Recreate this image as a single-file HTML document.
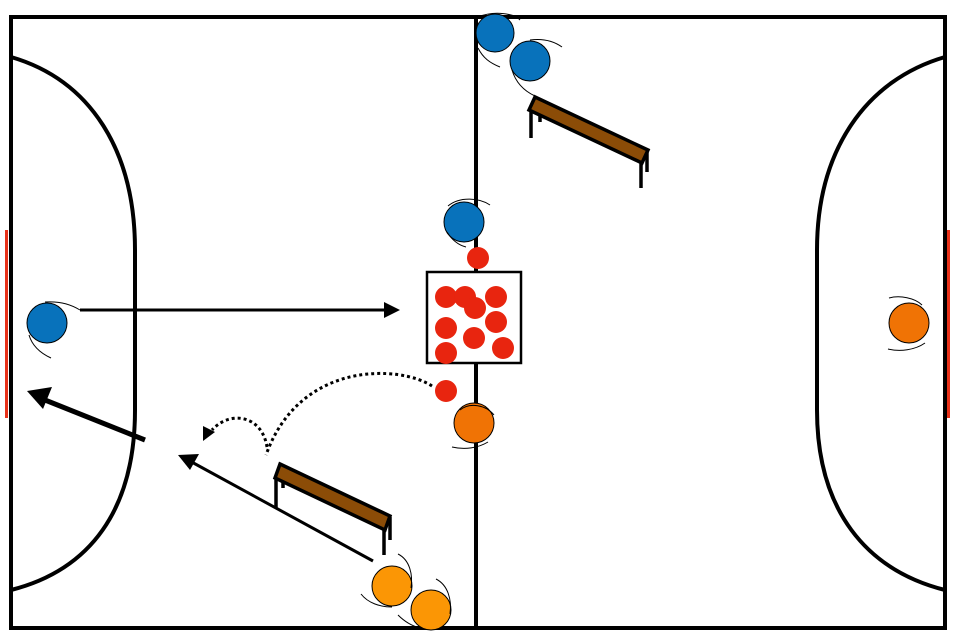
<!DOCTYPE html>
<html><head><style>html,body{margin:0;padding:0;background:#fff}svg{display:block}</style></head>
<body>
<svg width="963" height="641" viewBox="0 0 963 641" xmlns="http://www.w3.org/2000/svg">
<rect x="5" y="230" width="3" height="188" fill="#e8321a"/>
<rect x="947" y="230" width="3" height="188" fill="#e8321a"/>
<rect x="11" y="17" width="934" height="611" fill="none" stroke="#000" stroke-width="4"/>
<line x1="476" y1="17" x2="476" y2="628" stroke="#000" stroke-width="4"/>
<path d="M11,57 C90,80 135,150 135,250 L135,410 C135,510 90,570 11,590" fill="none" stroke="#000" stroke-width="4"/>
<path d="M945,57 C866,80 817,150 817,250 L817,410 C817,510 866,570 945,590" fill="none" stroke="#000" stroke-width="4"/>

<rect x="427" y="272" width="94" height="91" fill="#fff" stroke="#000" stroke-width="2.5"/>
<g fill="#e8250f">
<circle cx="446" cy="297" r="11"/><circle cx="465" cy="297" r="11"/><circle cx="496" cy="297" r="11"/>
<circle cx="475" cy="308" r="11"/><circle cx="446" cy="328" r="11"/><circle cx="496" cy="322" r="11"/>
<circle cx="474" cy="338" r="11"/><circle cx="446" cy="353" r="11"/><circle cx="503" cy="348" r="11"/>
<circle cx="478" cy="258" r="11"/><circle cx="446" cy="391" r="11"/>
</g>

<g stroke="#000" stroke-width="3.5">
<line x1="531" y1="110" x2="531" y2="138"/><line x1="540" y1="114" x2="540" y2="122"/>
<line x1="641" y1="162" x2="641" y2="188"/><line x1="647" y1="152" x2="647" y2="172"/>
<polygon points="535,97 648,150 642,163 529,110" fill="#8b4c07"/>
<line x1="276" y1="478" x2="276" y2="508"/><line x1="283" y1="481" x2="283" y2="488"/>
<line x1="384" y1="529" x2="384" y2="555"/><line x1="390" y1="517" x2="390" y2="540"/>
<polygon points="280,464 390,516 385,530 275,478" fill="#8b4c07"/>
</g>

<line x1="80" y1="310" x2="390" y2="310" stroke="#000" stroke-width="3"/>
<polygon points="400,310 384,302 384,318" fill="#000"/>
<line x1="145" y1="440" x2="40" y2="398" stroke="#000" stroke-width="5"/>
<polygon points="27,391 52,387 43,409" fill="#000"/>
<line x1="373" y1="561" x2="188" y2="460" stroke="#000" stroke-width="3"/>
<polygon points="178,455 199,454 190,470" fill="#000"/>
<path d="M432,386 C400,365 300,360 266,455" fill="none" stroke="#000" stroke-width="3" stroke-dasharray="3,3"/>
<path d="M267,447 C262,415 230,410 212,430" fill="none" stroke="#000" stroke-width="3" stroke-dasharray="3,3"/>
<polygon points="203,441 203,426 215,432" fill="#000"/>

<g stroke="#000" stroke-width="1">
<circle cx="495" cy="33" r="19" fill="#0872bb"/>
<circle cx="530" cy="61" r="20" fill="#0872bb"/>
<circle cx="464" cy="222" r="20" fill="#0872bb"/>
<circle cx="47" cy="323" r="20" fill="#0872bb"/>
<circle cx="474" cy="423" r="20" fill="#f07305"/>
<circle cx="909" cy="323" r="20" fill="#f07305"/>
<circle cx="392" cy="586" r="20" fill="#fb9605"/>
<circle cx="431" cy="610" r="20" fill="#fb9605"/>
</g>
<g fill="none" stroke="#000" stroke-width="1">
<path d="M478,17 C495,10 515,14 520,20"/><path d="M478,48 C483,58 490,63 500,67"/>
<path d="M530,40 C545,38 555,42 562,47"/><path d="M512,70 C515,80 522,90 535,96"/>
<path d="M448,206 C460,196 480,198 490,205"/><path d="M447,232 C452,240 458,245 466,247"/>
<path d="M45,302 C60,301 72,305 80,310"/><path d="M29,335 C32,345 40,353 51,358"/>
<path d="M460,410 C470,402 486,405 494,415"/><path d="M452,447 C465,450 478,448 488,442"/>
<path d="M889,298 C900,295 915,298 922,305"/><path d="M888,349 C900,352 915,350 925,343"/>
<path d="M398,554 C410,560 413,575 411,588"/><path d="M361,594 C368,603 380,607 392,607"/>
<path d="M436,579 C448,585 452,600 450,614"/><path d="M398,615 C405,622 412,626 420,628"/>
</g>
</svg>
</body></html>
